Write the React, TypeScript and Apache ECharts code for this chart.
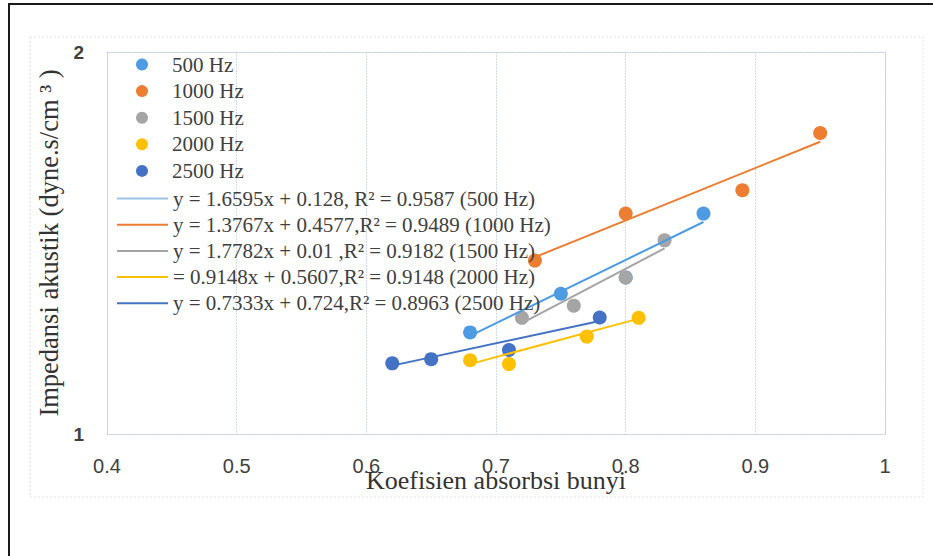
import React, { useEffect, useRef } from "react";
import * as echarts from "echarts";

// ---- data ----
const seriesNames = ["500 Hz", "1000 Hz", "1500 Hz", "2000 Hz", "2500 Hz"];
const trendNames = [
  "y = 1.6595x + 0.128, R² = 0.9587 (500 Hz)",
  "y = 1.3767x + 0.4577,R² = 0.9489 (1000 Hz)",
  "y = 1.7782x + 0.01 ,R² = 0.9182 (1500 Hz)",
  "= 0.9148x + 0.5607,R² = 0.9148 (2000 Hz)",
  "y = 0.7333x + 0.724,R² = 0.8963 (2500 Hz)",
];
const colors = ["#4d9be3", "#ed7d31", "#a5a5a5", "#ffc000", "#4472c4"];

const points500 = [[0.68, 1.266], [0.75, 1.367], [0.80, 1.41], [0.86, 1.577]];
const points1000 = [[0.73, 1.454], [0.80, 1.577], [0.89, 1.638], [0.95, 1.788]];
const points1500 = [[0.72, 1.304], [0.76, 1.336], [0.80, 1.41], [0.83, 1.507]];
const points2000 = [[0.68, 1.193], [0.71, 1.183], [0.77, 1.255], [0.81, 1.304]];
const points2500 = [[0.62, 1.185], [0.65, 1.196], [0.71, 1.22], [0.78, 1.305]];

const trend500 = [[0.68, 1.257], [0.86, 1.555]];
const trend1000 = [[0.73, 1.463], [0.95, 1.765]];
const trend1500 = [[0.72, 1.29], [0.83, 1.486]];
const trend2000 = [[0.68, 1.183], [0.81, 1.302]];
const trend2500 = [[0.62, 1.179], [0.78, 1.296]];

const allPoints = [points500, points1000, points1500, points2000, points2500];
const allTrends = [trend500, trend1000, trend1500, trend2000, trend2500];

const xMin = 0.4;
const xMax = 1;
const xStep = 0.1;
const yMin = 1;
const yMax = 2;
const yStep = 1;

const xTitle = "Koefisien absorbsi bunyi";
const yTitle = "Impedansi akustik (dyne.s/cm ³ )";

export default function App() {
  const ref = useRef<HTMLDivElement>(null);

  useEffect(() => {
    if (!ref.current) return;
    const chart = echarts.init(ref.current, undefined, { renderer: "svg" });
    const serif = "'Liberation Serif', 'Times New Roman', serif";
    const sans = "'Liberation Sans', Arial, sans-serif";
    const frameLine = { color: "#c9d2e0", type: [2, 1] as any, width: 1 };
    const legendText = {
      fontFamily: serif,
      fontSize: 21,
      lineHeight: 20,
      color: "#404040",
    };

    const scatterSeries = seriesNames.map((n, i) => ({
      name: n,
      type: "scatter",
      data: allPoints[i],
      symbol: "circle",
      symbolSize: 14,
      itemStyle: { color: colors[i], opacity: 1 },
      z: 2,
    }));
    const lineSeries = trendNames.map((n, i) => ({
      name: n,
      type: "line",
      data: allTrends[i],
      symbol: "none",
      lineStyle: { color: colors[i], width: 2 },
      itemStyle: { color: colors[i] },
      z: 3,
    }));

    chart.setOption({
      animation: false,
      backgroundColor: "#ffffff",
      grid: { left: 107, right: 48, top: 52, bottom: 122, containLabel: false },
      graphic: [
        {
          type: "rect",
          shape: { x: 30, y: 37, width: 893, height: 460 },
          style: { fill: "none", stroke: "#dfe3ee", lineWidth: 1, lineDash: [2, 2] },
          silent: true,
        },
      ],
      legend: [
        {
          data: seriesNames,
          orient: "vertical",
          left: 131,
          top: 49,
          itemWidth: 50,
          itemHeight: 12,
          itemGap: 5.6,
          icon: "circle",
          selectedMode: false,
          textStyle: legendText,
        },
        {
          data: trendNames.map((n, i) =>
            i === 0 ? { name: n, itemStyle: { color: "#9dc3e6" } } : { name: n }
          ),
          orient: "vertical",
          left: 112,
          top: 183,
          itemWidth: 51,
          itemHeight: 2,
          itemGap: 5.2,
          icon: "rect",
          selectedMode: false,
          textStyle: legendText,
        },
      ],
      xAxis: [
        {
          type: "value",
          min: xMin,
          max: xMax,
          interval: xStep,
          position: "bottom",
          axisLine: { show: true, lineStyle: frameLine },
          axisTick: { show: false },
          axisLabel: { fontFamily: sans, fontSize: 20, color: "#404040", margin: 22 },
          splitLine: { show: true, lineStyle: { color: "#d3dae6", type: [2, 1], width: 1 } },
          name: xTitle,
          nameLocation: "middle",
          nameGap: 33,
          nameMoveOverlap: false,
          nameTextStyle: { fontFamily: serif, fontSize: 26, color: "#333333" },
        },
        {
          type: "value",
          min: xMin,
          max: xMax,
          position: "top",
          axisLine: { show: true, onZero: false, lineStyle: frameLine },
          axisTick: { show: false },
          axisLabel: { show: false },
          splitLine: { show: false },
        },
      ],
      yAxis: [
        {
          type: "value",
          min: yMin,
          max: yMax,
          interval: yStep,
          position: "left",
          axisLine: { show: true, onZero: false, lineStyle: frameLine },
          axisTick: { show: false },
          axisLabel: {
            fontFamily: sans,
            fontSize: 19,
            fontWeight: "bold",
            color: "#404040",
            margin: 23,
          },
          splitLine: { show: false },
          name: yTitle,
          nameLocation: "middle",
          nameRotate: 90,
          nameGap: 45,
          nameMoveOverlap: false,
          nameTextStyle: { fontFamily: serif, fontSize: 26.5, color: "#333333" },
        },
        {
          type: "value",
          min: yMin,
          max: yMax,
          position: "right",
          axisLine: { show: true, onZero: false, lineStyle: frameLine },
          axisTick: { show: false },
          axisLabel: { show: false },
          splitLine: { show: false },
        },
      ],
      series: [...scatterSeries, ...lineSeries],
    });

    return () => {
      chart.dispose();
    };
  }, []);

  return (
    <div
      style={{
        position: "absolute",
        left: 0,
        top: 0,
        width: 933,
        height: 556,
        background: "#ffffff",
        overflow: "hidden",
      }}
    >
      <div ref={ref} style={{ width: 933, height: 556 }} />
      <div
        style={{
          position: "absolute",
          left: 8,
          top: 3,
          width: 940,
          height: 560,
          borderLeft: "2px solid #1a1a1a",
          borderTop: "2px solid #1a1a1a",
          pointerEvents: "none",
        }}
      />
    </div>
  );
}
